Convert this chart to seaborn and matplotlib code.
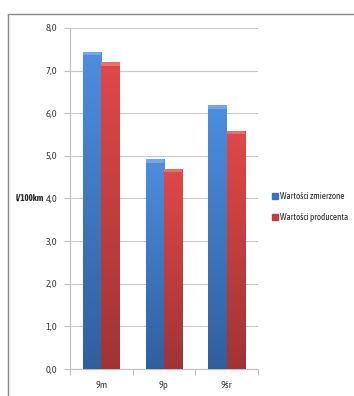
import numpy as np
import pandas as pd
import matplotlib
matplotlib.use("Agg")
import matplotlib.pyplot as plt
import seaborn as sns
from matplotlib.colors import LinearSegmentedColormap
from matplotlib.patches import Rectangle
from matplotlib.lines import Line2D

# Fuel consumption per vehicle class (l/100km)
categories = ["9m", "9p", "9śr"]
measured = [7.44, 4.92, 6.19]
manufacturer = [7.20, 4.70, 5.59]
series_names = ["Wartości zmierzone", "Wartości producenta"]
y_ticks = [0, 1, 2, 3, 4, 5, 6, 7, 8]
y_tick_labels = ["0,0", "1,0", "2,0", "3,0", "4,0", "5,0", "6,0", "7,0", "8,0"]

df = pd.DataFrame({
    "kategoria": categories * 2,
    "seria": [series_names[0]] * 3 + [series_names[1]] * 3,
    "wartosc": measured + manufacturer,
})

sns.set_theme(style="white")
plt.rcParams["font.family"] = ["Asap Condensed", "Carlito", "DejaVu Sans"]

fig = plt.figure(figsize=(3.54, 3.96), dpi=100)
ax = fig.add_axes([70 / 354, 1 - 369 / 396, 188 / 354, 341 / 396])

top_colors = ["#4d8ee0", "#e04848"]
bottom_colors = ["#305f9f", "#a03434"]
palette = dict(zip(series_names, top_colors))

sns.barplot(data=df, x="kategoria", y="wartosc", hue="seria", order=categories,
            hue_order=series_names, palette=palette, width=0.58, dodge=True,
            saturation=1, ax=ax, legend=False, zorder=3)

ax.set_xlim(-0.5, 2.5)
ax.set_ylim(0, 8)

# Vertical gradient fill on every bar, clipped to its rectangle
grad = np.linspace(0, 1, 256).reshape(-1, 1)
n = len(categories)
for i, patch in enumerate(ax.patches[: 2 * n]):
    s = i // n
    cmap = LinearSegmentedColormap.from_list(f"g{s}", [bottom_colors[s], top_colors[s]])
    x0, y0 = patch.get_x(), patch.get_y()
    w, h = patch.get_width(), patch.get_height()
    im = ax.imshow(grad, cmap=cmap, aspect="auto", origin="lower",
                   extent=[x0, x0 + w, y0, y0 + h], zorder=4)
    im.set_clip_path(patch)
    ax.add_patch(Rectangle((x0, y0 + h - 0.08), w, 0.08, facecolor="white",
                           alpha=0.22, edgecolor="none", zorder=5))
    patch.set_edgecolor("none")

# Grid, spines and ticks
ax.set_yticks(y_ticks)
ax.set_yticklabels(y_tick_labels)
ax.yaxis.grid(True, color="#c8c8c8", linewidth=0.8, zorder=0)
ax.set_axisbelow(True)
for side in ["top", "right"]:
    ax.spines[side].set_visible(False)
for side in ["left", "bottom"]:
    ax.spines[side].set_color("#bfbfbf")
    ax.spines[side].set_linewidth(0.8)

ax.set_xticks([-0.5, 0.5, 1.5, 2.5], minor=False)
ax.set_xticklabels([])
ax.set_xticks([0, 1, 2], minor=True)
ax.set_xticklabels(categories, minor=True)
ax.tick_params(axis="x", which="major", length=4, width=0.8, color="#bfbfbf", direction="out")
ax.tick_params(axis="x", which="minor", length=0, pad=9, labelsize=7.5, labelcolor="#404040")
ax.tick_params(axis="y", length=4, width=0.8, color="#bfbfbf", direction="out",
               pad=5, labelsize=7.5, labelcolor="#404040")
ax.tick_params(left=True, bottom=True, which="both")
ax.tick_params(axis="x", which="minor", bottom=False)
ax.set_xlabel("")
ax.set_ylabel("")

fig.text(44 / 354, 1 - 198 / 396, "l/100km", fontsize=6.5, fontweight="bold",
         color="#262626", ha="right", va="center")

# Legend
handles = [Line2D([], [], marker="s", linestyle="none", markersize=4.5,
                  markerfacecolor=c, markeredgecolor=c) for c in ["#3a72c0", "#c83a3a"]]
fig.legend(handles, series_names, loc="center left",
           bbox_to_anchor=(268 / 354, 1 - 207 / 396), frameon=False, fontsize=6.5,
           handlelength=0.6, handletextpad=0.2, labelspacing=1.3,
           labelcolor="#262626", borderpad=0)

# Outer chart border (top and left)
fig.add_artist(Line2D([8 / 354, 8 / 354], [0, 1 - 13.5 / 396], color="#8a8a8a", linewidth=1.0))
fig.add_artist(Line2D([8 / 354, 1], [1 - 13.5 / 396, 1 - 13.5 / 396], color="#8a8a8a", linewidth=1.0))

fig.savefig("out.png", dpi=100)
